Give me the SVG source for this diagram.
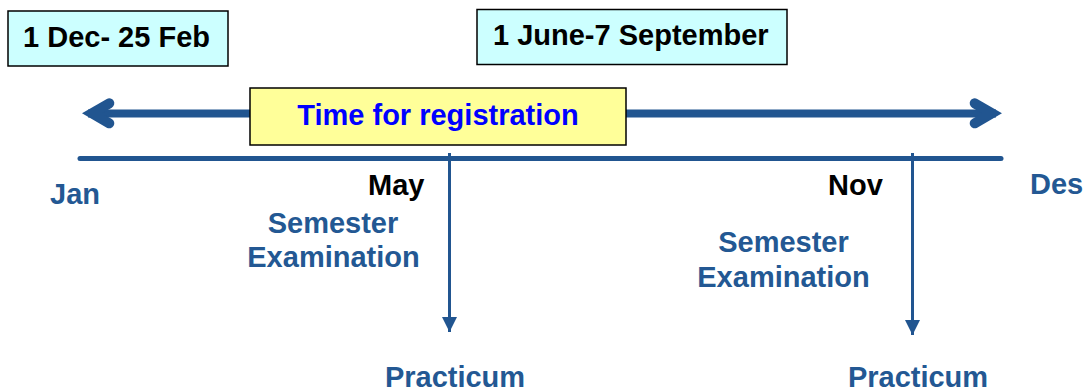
<svg xmlns="http://www.w3.org/2000/svg" width="1083" height="390" viewBox="0 0 1083 390">
<style>
text{font-family:"Liberation Sans",Arial,sans-serif;font-weight:bold;font-size:29px}
.blk{fill:#000}
.blu{fill:#235893}
.reg{fill:#0000ff}
.box{stroke:#000;stroke-width:1.5}
.ln{stroke:#215590;fill:none}
.head{stroke-width:10;stroke-linecap:round;stroke-linejoin:miter;stroke-miterlimit:10}
</style>
<defs>
<marker id="tri" markerUnits="userSpaceOnUse" markerWidth="15" markerHeight="15" refX="15" refY="7.5" orient="auto" viewBox="0 0 15 15">
<path d="M0,0 L15,7.5 L0,15 z" fill="#215590"/>
</marker>
</defs>
<g id="connectors">
<line class="ln" x1="88" y1="113.5" x2="996" y2="113.5" stroke-width="8"/>
<polyline class="ln head" points="109.3,103.3 92,113.3 109.3,123.3"/>
<polyline class="ln head" points="974.7,103.3 992,113.3 974.7,123.3"/>
<line class="ln" x1="80" y1="158.5" x2="1001" y2="158.5" stroke-width="5" stroke-linecap="round"/>
<line class="ln" x1="449.5" y1="153" x2="449.5" y2="332" stroke-width="3" marker-end="url(#tri)"/>
<line class="ln" x1="912.5" y1="153" x2="912.5" y2="335" stroke-width="3" marker-end="url(#tri)"/>
</g>
<g id="n-dec">
<rect class="box" x="8" y="11" width="220" height="55" fill="#ccffff"/>
<text class="blk" x="23" y="47">1 Dec- 25 Feb</text>
</g>
<g id="n-june">
<rect class="box" x="477" y="9.5" width="310" height="55" fill="#ccffff"/>
<text class="blk" x="493" y="45">1 June-7 September</text>
</g>
<g id="n-registration">
<rect class="box" x="250" y="88" width="376" height="57" fill="#ffff99"/>
<text class="reg" x="438" y="125" text-anchor="middle">Time for registration</text>
</g>
<g id="n-jan"><text class="blu" x="50" y="204">Jan</text></g>
<g id="n-may"><text class="blk" x="368" y="195">May</text></g>
<g id="n-nov"><text class="blk" x="828" y="195">Nov</text></g>
<g id="n-des"><text class="blu" x="1030" y="194">Des</text></g>
<g id="n-exam1">
<text class="blu" x="333" y="233" text-anchor="middle">Semester</text>
<text class="blu" x="333.5" y="267" text-anchor="middle">Examination</text>
</g>
<g id="n-exam2">
<text class="blu" x="783.5" y="252" text-anchor="middle">Semester</text>
<text class="blu" x="783.5" y="287" text-anchor="middle">Examination</text>
</g>
<g id="n-prac1"><text class="blu" x="455" y="387" text-anchor="middle">Practicum</text></g>
<g id="n-prac2"><text class="blu" x="918" y="387" text-anchor="middle">Practicum</text></g>
</svg>
